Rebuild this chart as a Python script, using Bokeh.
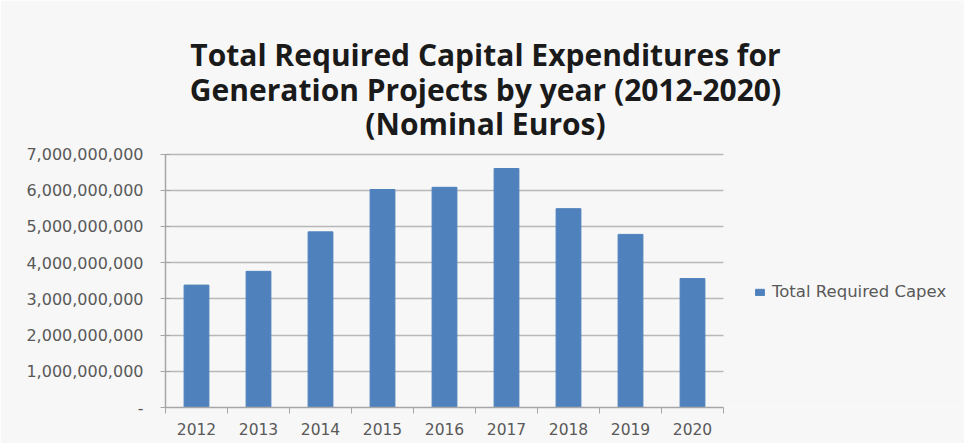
from bokeh.plotting import figure
from bokeh.models import (ColumnDataSource, FixedTicker, NumeralTickFormatter, Label,
                          Legend, LegendItem, Range1d, Grid)
from bokeh.embed import file_html
from bokeh.resources import INLINE

# ---- data ----
years = ["2012", "2013", "2014", "2015", "2016", "2017", "2018", "2019", "2020"]
capex = [3.38e9, 3.76e9, 4.85e9, 6.02e9, 6.08e9, 6.60e9, 5.49e9, 4.78e9, 3.56e9]
y_ticks = [0, 1e9, 2e9, 3e9, 4e9, 5e9, 6e9, 7e9]
title_lines = ["Total Required Capital Expenditures for",
               "Generation Projects by year (2012-2020)",
               "(Nominal Euros)"]
series_name = "Total Required Capex"

BG = "#f7f7f7"
W, H = 964, 443
# layout (pixels): the frame spans the whole area right of the value axis;
# the axes are bounded to the real data area.
F_LEFT, F_BOTTOM = 165, 407
CAT_PX = 62.0                      # pixels per category
Y_MAX = 7e9
Y_PX = 253.5                       # pixels for 0..Y_MAX
n = len(years)
x_end = -0.5 + (W - F_LEFT) / CAT_PX
y_end = Y_MAX * F_BOTTOM / Y_PX


def px_to_x(px):
    return -0.5 + (px - F_LEFT) / CAT_PX


def py_to_y(py):
    return (F_BOTTOM - py) / Y_PX * Y_MAX


idx = list(range(n))
src = ColumnDataSource(dict(x=idx, year=years, capex=capex))

p = figure(width=W, height=H, output_backend="svg", toolbar_location=None,
           x_range=Range1d(-0.5, x_end), y_range=Range1d(0, y_end),
           min_border_left=F_LEFT, min_border_right=0, min_border_top=0,
           min_border_bottom=H - F_BOTTOM)
p.background_fill_color = BG
p.border_fill_color = BG
p.outline_line_color = None

r = p.vbar(x="x", top="capex", width=0.4, source=src, color="#4f81bd")

xa = p.xaxis[0]
xa.bounds = (-0.5, n - 0.5)
xa.ticker = FixedTicker(ticks=idx, minor_ticks=[i - 0.5 for i in range(n + 1)])
xa.major_label_overrides = {i: y for i, y in zip(idx, years)}
xa.major_tick_out = 0
xa.major_tick_in = 0
xa.minor_tick_out = 6
xa.minor_tick_in = 0
xa.minor_tick_line_color = "#a6a6a6"
xa.axis_line_color = "#a6a6a6"
xa.axis_line_width = 1.5
xa.major_label_standoff = 9
xa.major_label_text_font = "DejaVu Sans"
xa.major_label_text_font_size = "15.5px"
xa.major_label_text_color = "#595959"

ya = p.yaxis[0]
ya.bounds = (0, Y_MAX)
ya.ticker = FixedTicker(ticks=y_ticks)
ya.formatter = NumeralTickFormatter(format="0,0")
ya.major_label_overrides = {0: "-"}
ya.major_tick_out = 5
ya.major_tick_in = 5
ya.minor_tick_line_color = None
ya.major_tick_line_color = "#a6a6a6"
ya.axis_line_color = "#a6a6a6"
ya.axis_line_width = 1.5
ya.major_label_standoff = 17
ya.major_label_text_font = "DejaVu Sans"
ya.major_label_text_font_size = "16px"
ya.major_label_text_color = "#595959"

p.xgrid.grid_line_color = None
yg = p.ygrid[0]
yg.ticker = FixedTicker(ticks=y_ticks[1:])
yg.grid_line_color = "#b8b8b8"
yg.grid_line_width = 1.5
if "cross_bounds" in Grid.properties():
    yg.cross_bounds = (-0.5, n - 0.5)

# title (three centred lines)
for t, base in zip(title_lines, [54, 89, 122.5]):
    p.add_layout(Label(x=px_to_x(485), y=py_to_y(base), text=t, text_align="center",
                       text_baseline="alphabetic", text_font="Open Sans",
                       text_font_style="bold", text_font_size="30px",
                       text_color="#1a1a1a"))

legend = Legend(items=[LegendItem(label=series_name, renderers=[r])],
                location=(754 - F_LEFT, F_BOTTOM - 292 - 9), orientation="vertical",
                padding=0, margin=0, border_line_color=None,
                background_fill_alpha=0, glyph_width=11, glyph_height=8,
                label_height=18, label_standoff=7,
                label_text_font="DejaVu Sans", label_text_font_size="16.5px",
                label_text_color="#595959")
p.add_layout(legend, "center")

open("out.html", "w").write(file_html(p, INLINE))
